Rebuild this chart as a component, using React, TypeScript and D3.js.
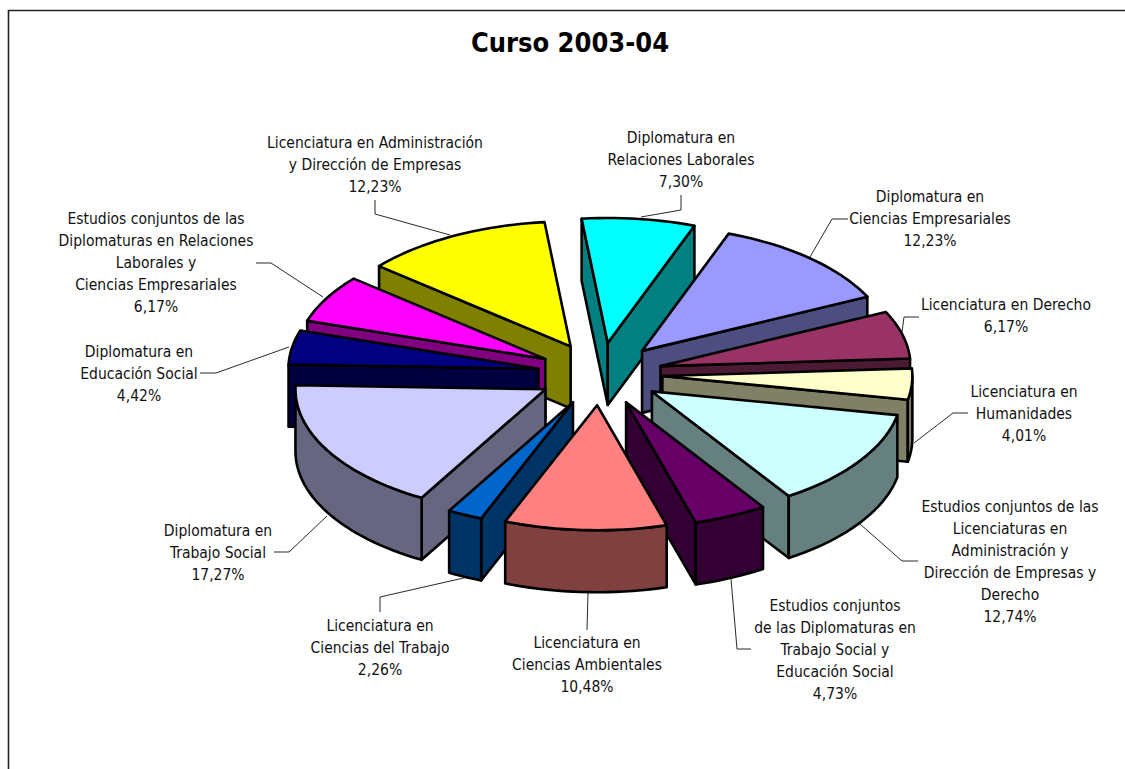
import React from "react";
import * as d3 from "d3";

const title = "Curso 2003-04";
const categoryLines: string[][] = [
  ["Diplomatura en", "Relaciones Laborales"],
  ["Diplomatura en", "Ciencias Empresariales"],
  ["Licenciatura en Derecho"],
  ["Licenciatura en", "Humanidades"],
  ["Estudios conjuntos de las", "Licenciaturas en", "Administración y", "Dirección de Empresas y", "Derecho"],
  ["Estudios conjuntos", "de las Diplomaturas en", "Trabajo Social y", "Educación Social"],
  ["Licenciatura en", "Ciencias Ambientales"],
  ["Licenciatura en", "Ciencias del Trabajo"],
  ["Diplomatura en", "Trabajo Social"],
  ["Diplomatura en", "Educación Social"],
  ["Estudios conjuntos de las", "Diplomaturas en Relaciones", "Laborales y", "Ciencias Empresariales"],
  ["Licenciatura en Administración", "y Dirección de Empresas"],
];
const values = [7.3, 12.23, 6.17, 4.01, 12.74, 4.73, 10.48, 2.26, 17.27, 4.42, 6.17, 12.23];
const valueLabels = ["7,30%", "12,23%", "6,17%", "4,01%", "12,74%", "4,73%", "10,48%", "2,26%", "17,27%", "4,42%", "6,17%", "12,23%"];
const colors = ["#00FFFF", "#9999FF", "#993366", "#FFFFCC", "#CCFFFF", "#660066", "#FF8080", "#0066CC", "#CCCCFF", "#000080", "#FF00FF", "#FFFF00"];

// Layout of the labels: centre x and centre y of the first line
const labelPos: [number, number][] = [
  [681, 138], [930, 197], [1006, 305], [1024, 392], [1010, 507], [835, 606],
  [587, 643], [380, 626], [218, 531], [139, 352], [156, 219], [375, 143],
];
const leaders: [number, number][][] = [
  [[681, 195], [681, 210], [641, 217]],
  [[848, 219], [832, 219], [810, 257]],
  [[919, 317], [904, 317], [902, 332]],
  [[968, 413], [953, 413], [914, 443]],
  [[918, 561], [902, 561], [860, 524]],
  [[751, 649], [737, 649], [731, 579]],
  [[587, 630], [588, 593]],
  [[380, 612], [380, 597], [468, 577]],
  [[274, 552], [289, 552], [327, 516]],
  [[200, 373], [216, 373], [289, 347]],
  [[256, 263], [271, 263], [323, 297]],
  [[375, 200], [375, 214], [450, 235]],
];

const W = 1125, H = 769;
const cx = 600, cy = 374, rx = 250, ry = 125, depth = 62, explode = 0.25;
const rad = Math.PI / 180;
const firstAngle = -6 * rad;

const x = d3.scaleLinear().domain([-1, 1]).range([-rx, rx]);
const y = d3.scaleLinear().domain([-1, 1]).range([-ry, ry]);
const line = d3.line<[number, number]>().x((p) => p[0]).y((p) => p[1]);

const half = (c: string) => {
  const r = d3.rgb(c);
  return d3.rgb(r.r * 0.5, r.g * 0.5, r.b * 0.5).formatHex();
};

const arcs = d3
  .pie<number>()
  .sort(null)
  .startAngle(firstAngle)
  .endAngle(firstAngle + 2 * Math.PI)(values);

type Pt = [number, number];

function slicePaths(a0: number, a1: number, color: string) {
  const mid = (a0 + a1) / 2;
  const ax = cx + x(Math.sin(mid) * explode);
  const ay = cy + y(-Math.cos(mid) * explode);
  const rim = (a: number): Pt => [ax + x(Math.sin(a)), ay + y(-Math.cos(a))];
  const down = (p: Pt): Pt => [p[0], p[1] + depth];
  const sample = (s: number, e: number): Pt[] => {
    const n = Math.max(2, Math.ceil((e - s) / (2 * rad)));
    return d3.range(n + 1).map((i) => rim(s + ((e - s) * i) / n));
  };
  const apex: Pt = [ax, ay];
  const walls: string[] = [];
  if (Math.sin(a0) < 0) {
    const r = rim(a0);
    walls.push(line([apex, r, down(r), down(apex)])! + "Z");
  }
  if (Math.sin(a1) > 0) {
    const r = rim(a1);
    walls.push(line([apex, r, down(r), down(apex)])! + "Z");
  }
  const s = Math.max(a0, 90 * rad), e = Math.min(a1, 270 * rad);
  if (e > s) {
    const top = sample(s, e);
    walls.push(line([...top, ...top.slice().reverse().map(down)])! + "Z");
  }
  const topFace = line([apex, ...sample(a0, a1)])! + "Z";
  return { walls, topFace, color, wall: half(color), order: Math.cos(mid) };
}

const slices = arcs
  .map((d, i) => slicePaths(d.startAngle, d.endAngle, colors[i]))
  .sort((p, q) => d3.descending(p.order, q.order));

const font = "'DejaVu Sans', Tahoma, sans-serif";

export default function App() {
  return (
    <svg
      width={W}
      height={H}
      viewBox={`0 0 ${W} ${H}`}
      style={{ position: "absolute", left: 0, top: 0, background: "#fff" }}
    >
      <path d={`M8.5 ${H}V10.5H${W}`} fill="none" stroke="#222" strokeWidth={1.6} />
      <text
        x={570}
        y={52}
        textAnchor="middle"
        fontFamily={font}
        fontWeight="bold"
        fontSize={27}
        style={{ fontStretch: "condensed" }}
      >
        {title}
      </text>
      {leaders.map((l, i) => (
        <path key={i} d={line(l)!} fill="none" stroke="#111" strokeWidth={0.9} />
      ))}
      {slices.map((s, i) => (
        <g key={i} stroke="#000" strokeWidth={2.6} strokeLinejoin="round">
          {s.walls.map((d, j) => (
            <path key={j} d={d} fill={s.wall} />
          ))}
          <path d={s.topFace} fill={s.color} />
        </g>
      ))}
      {categoryLines.map((lines, i) => (
        <text
          key={i}
          textAnchor="middle"
          fontFamily={font}
          fontSize={15.5}
          fill="#111"
          style={{ fontStretch: "condensed" }}
        >
          {[...lines, valueLabels[i]].map((t, j) => (
            <tspan key={j} x={labelPos[i][0]} y={labelPos[i][1] + 5 + j * 22}>
              {t}
            </tspan>
          ))}
        </text>
      ))}
    </svg>
  );
}
